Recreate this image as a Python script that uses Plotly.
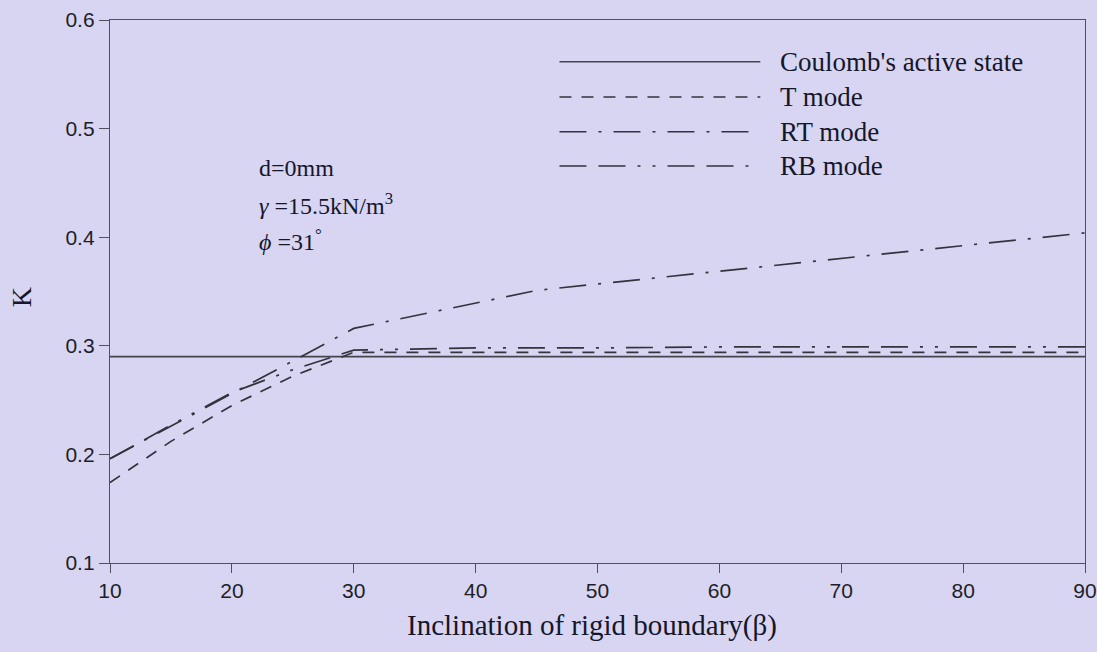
import plotly.graph_objects as go

# ---- data ----
beta_coulomb = [10, 90]
k_coulomb = [0.290, 0.290]

beta_t = [10, 15, 20, 25, 30, 40, 50, 60, 70, 80, 90]
k_t = [0.174, 0.212, 0.245, 0.272, 0.294, 0.294, 0.294, 0.294, 0.294, 0.294, 0.294]

beta_rt = [10, 30, 45, 90]
k_rt = [0.196, 0.316, 0.351, 0.404]

beta_rb = [10, 15, 20, 25, 30, 40, 50, 60, 70, 80, 90]
k_rb = [0.196, 0.227, 0.257, 0.278, 0.296, 0.298, 0.298, 0.299, 0.299, 0.299, 0.299]

x_ticks = [10, 20, 30, 40, 50, 60, 70, 80, 90]
y_ticks = [0.1, 0.2, 0.3, 0.4, 0.5, 0.6]

series_names = ["Coulomb's active state", "T mode", "RT mode", "RB mode"]

# ---- styles ----
BG = "#d7d5f1"
dash_t = "12px,10px"
dash_rt = "27px,12px,3px,12px"
dash_rb = "27px,12px,27px,12px,3px,12px,3px,12px"
dashes = ["solid", dash_t, dash_rt, dash_rb]
colors = ["#44444f", "#33333e", "#33333e", "#33333e"]

fig = go.Figure()
for name, xs, ys, d, c in zip(series_names,
                              [beta_coulomb, beta_t, beta_rt, beta_rb],
                              [k_coulomb, k_t, k_rt, k_rb], dashes, colors):
    fig.add_trace(go.Scatter(x=xs, y=ys, mode="lines", name=name,
                             line=dict(color=c, width=1.7, dash=d),
                             showlegend=False))

serif = "Liberation Serif, Times New Roman, serif"
sans = "Liberation Sans, Arial, sans-serif"
TXT = "#16162a"

# manual legend (long line samples like the original)
leg_y = [0.923, 0.858, 0.794, 0.731]
shapes = []
annotations = []
for name, d, c, yy in zip(series_names, dashes, colors, leg_y):
    shapes.append(dict(type="line", xref="paper", yref="paper",
                       x0=0.461, x1=0.667, y0=yy, y1=yy,
                       line=dict(color=c, width=1.5, dash=d)))
    annotations.append(dict(xref="paper", yref="paper", x=0.685, y=yy,
                            xanchor="left", yanchor="middle", showarrow=False,
                            text=name, font=dict(family=serif, size=27, color=TXT)))

# parameter text
for txt, yy in [("d=0mm", 0.727),
                ("<i>γ</i> =15.5kN/m<sup>3</sup>", 0.661),
                ("<i>ϕ</i> =31<sup>°</sup>", 0.595)]:
    annotations.append(dict(xref="paper", yref="paper", x=0.151, y=yy,
                            xanchor="left", yanchor="middle", showarrow=False,
                            text=txt, font=dict(family=serif, size=24, color=TXT)))

# axis titles
annotations.append(dict(xref="paper", yref="paper", x=0.494, y=-0.116,
                        xanchor="center", yanchor="middle", showarrow=False,
                        text="Inclination of rigid boundary(β)",
                        font=dict(family=serif, size=29, color=TXT)))
annotations.append(dict(xref="paper", yref="paper", x=-0.09, y=0.49,
                        xanchor="center", yanchor="middle", showarrow=False,
                        textangle=-90, text="K",
                        font=dict(family=serif, size=28, color=TXT)))

fig.update_layout(
    width=1097, height=652,
    margin=dict(l=110, r=12, t=20, b=89, autoexpand=False),
    paper_bgcolor=BG, plot_bgcolor=BG,
    shapes=shapes, annotations=annotations,
    showlegend=False,
)
fig.update_xaxes(range=[10, 90], tickvals=x_ticks, ticktext=[str(v) for v in x_ticks],
                 showgrid=False, zeroline=False, showline=True, mirror=True,
                 linecolor="#50505c", linewidth=1.3,
                 ticks="outside", ticklen=9, tickcolor="#50505c",
                 ticklabeloverflow="allow", automargin=False,
                 tickfont=dict(family=sans, size=21, color="#1e1e28"))
fig.update_yaxes(range=[0.1, 0.6], tickvals=y_ticks, ticktext=[f"{v:.1f}" for v in y_ticks],
                 showgrid=False, zeroline=False, showline=True, mirror=True,
                 linecolor="#50505c", linewidth=1.3,
                 ticks="outside", ticklen=10, tickcolor="#50505c",
                 ticklabeloverflow="allow", automargin=False,
                 tickfont=dict(family=sans, size=21, color="#1e1e28"))

fig.write_html("out.html",
               config={"displayModeBar": False},
               post_script="document.body.style.margin='0';document.body.style.background='%s';" % BG)
